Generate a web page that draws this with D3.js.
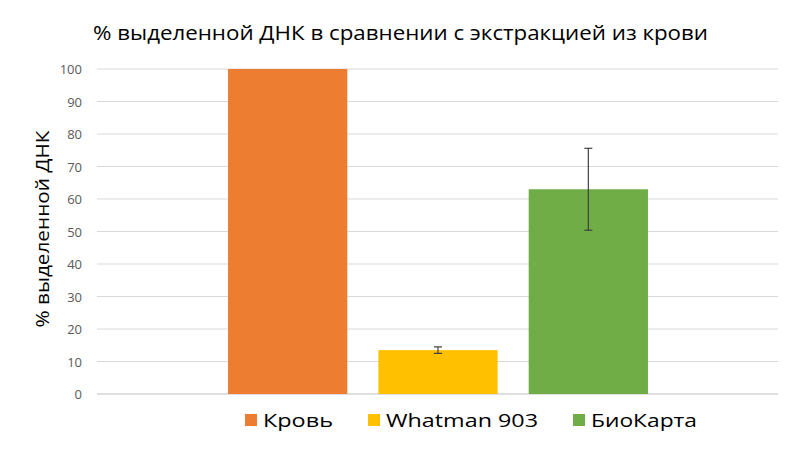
<!DOCTYPE html><html><head><meta charset="utf-8"><script src="https://cdn.jsdelivr.net/npm/d3@7"></script>
<style>body{margin:0;background:#fff}text{font-family:"Open Sans","Noto Sans",sans-serif}</style></head><body><svg id="c" width="800" height="468"></svg><script>
const series=["Кровь","Whatman 903","БиоКарта"];
const values=[100,13.5,63];
const errors=[0,1,12.6];
const colors=["#ED7D31","#FFC000","#70AD47"];
const ticks=[0,10,20,30,40,50,60,70,80,90,100];
const svg=d3.select("#c");
const L=97,R=778,T=69,B=394;
const y=d3.scaleLinear().domain([0,100]).range([B,T]);
const x=d3.scaleBand().domain(series).range([228-31/2,648+31/2]).paddingInner(31/150).paddingOuter(31/300);
svg.append("g").selectAll("line").data(ticks).join("line").attr("x1",L).attr("x2",R).attr("y1",d=>y(d)).attr("y2",d=>y(d)).attr("stroke",d=>d===0?"#bfbfbf":"#d9d9d9");
svg.append("g").selectAll("text").data(ticks).join("text").attr("x",82).attr("y",d=>y(d)+5).attr("text-anchor","end").attr("font-size",13).attr("fill","#595959").text(d=>d);
svg.append("g").selectAll("rect").data(series).join("rect").attr("x",d=>x(d)).attr("width",x.bandwidth()).attr("y",(d,i)=>y(values[i])).attr("height",(d,i)=>B-y(values[i])).attr("fill",(d,i)=>colors[i]);
const eb=svg.append("g").attr("stroke","#404040").attr("stroke-width",1.2);
series.forEach((s,i)=>{if(!errors[i])return;const cx=x(s)+x.bandwidth()/2,a=y(values[i]+errors[i]),b=y(values[i]-errors[i]);
eb.append("line").attr("x1",cx).attr("x2",cx).attr("y1",a).attr("y2",b);
[a,b].forEach(v=>eb.append("line").attr("x1",cx-4).attr("x2",cx+4).attr("y1",v).attr("y2",v));});
svg.append("text").attr("x",93).attr("y",40).attr("font-size",20).attr("textLength",615).attr("lengthAdjust","spacingAndGlyphs").attr("fill","#000").text("% выделенной ДНК в сравнении с экстракцией из крови");
svg.append("text").attr("transform","translate(49,229) rotate(-90)").attr("text-anchor","middle").attr("font-size",18).attr("textLength",197).attr("lengthAdjust","spacingAndGlyphs").text("% выделенной ДНК");
const lx=[245,368,573], lw=[70,152,106];
const lg=svg.append("g");
series.forEach((s,i)=>{lg.append("rect").attr("x",lx[i]).attr("y",414).attr("width",12).attr("height",12).attr("fill",colors[i]);
lg.append("text").attr("x",lx[i]+18).attr("y",427).attr("font-size",18).attr("textLength",lw[i]).attr("lengthAdjust","spacingAndGlyphs").attr("fill","#000").text(s);});
</script></body></html>
